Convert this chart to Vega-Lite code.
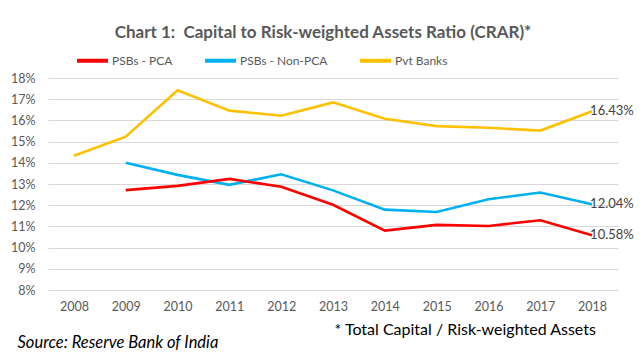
{
  "$schema": "https://vega.github.io/schema/vega-lite/v6.json",
  "width": 570,
  "height": 212,
  "autosize": {"type": "none"},
  "padding": {"left": 48, "top": 78, "right": 23, "bottom": 69},
  "background": "white",
  "title": {
    "text": "Chart 1:\u00a0 Capital to Risk-weighted Assets Ratio (CRAR)*",
    "font": "Lato",
    "fontSize": 17,
    "fontWeight": "bold",
    "color": "#595959",
    "anchor": "middle",
    "frame": "group",
    "dx": -10,
    "offset": 1
  },
  "config": {
    "font": "Lato",
    "view": {"stroke": null},
    "axis": {"labelFont": "Lato", "labelColor": "#595959", "labelFontSize": 12.5, "domain": false, "ticks": false}
  },
  "data": {
    "values": [
      {"year": "2008", "series": "Pvt Banks", "value": 0.1433},
      {"year": "2009", "series": "Pvt Banks", "value": 0.1523},
      {"year": "2010", "series": "Pvt Banks", "value": 0.1742},
      {"year": "2011", "series": "Pvt Banks", "value": 0.1646},
      {"year": "2012", "series": "Pvt Banks", "value": 0.1622},
      {"year": "2013", "series": "Pvt Banks", "value": 0.1685},
      {"year": "2014", "series": "Pvt Banks", "value": 0.1608},
      {"year": "2015", "series": "Pvt Banks", "value": 0.1573},
      {"year": "2016", "series": "Pvt Banks", "value": 0.1565},
      {"year": "2017", "series": "Pvt Banks", "value": 0.1552},
      {"year": "2018", "series": "Pvt Banks", "value": 0.1643},
      {"year": "2009", "series": "PSBs - Non-PCA", "value": 0.1400},
      {"year": "2010", "series": "PSBs - Non-PCA", "value": 0.1343},
      {"year": "2011", "series": "PSBs - Non-PCA", "value": 0.1296},
      {"year": "2012", "series": "PSBs - Non-PCA", "value": 0.1346},
      {"year": "2013", "series": "PSBs - Non-PCA", "value": 0.1270},
      {"year": "2014", "series": "PSBs - Non-PCA", "value": 0.1179},
      {"year": "2015", "series": "PSBs - Non-PCA", "value": 0.1168},
      {"year": "2016", "series": "PSBs - Non-PCA", "value": 0.1228},
      {"year": "2017", "series": "PSBs - Non-PCA", "value": 0.1260},
      {"year": "2018", "series": "PSBs - Non-PCA", "value": 0.1204},
      {"year": "2009", "series": "PSBs - PCA", "value": 0.1271},
      {"year": "2010", "series": "PSBs - PCA", "value": 0.1291},
      {"year": "2011", "series": "PSBs - PCA", "value": 0.1324},
      {"year": "2012", "series": "PSBs - PCA", "value": 0.1287},
      {"year": "2013", "series": "PSBs - PCA", "value": 0.1202},
      {"year": "2014", "series": "PSBs - PCA", "value": 0.1080},
      {"year": "2015", "series": "PSBs - PCA", "value": 0.1107},
      {"year": "2016", "series": "PSBs - PCA", "value": 0.1102},
      {"year": "2017", "series": "PSBs - PCA", "value": 0.1129},
      {"year": "2018", "series": "PSBs - PCA", "value": 0.1058}
    ]
  },
  "encoding": {
    "x": {
      "field": "year",
      "type": "ordinal",
      "scale": {"type": "point", "padding": 0.5},
      "axis": {
        "labelAngle": 0,
        "labelPadding": 10,
        "grid": false,
        "title": "Source: Reserve Bank of India",
        "titleFont": "Lato",
        "titleFontSize": 16.5,
        "titleFontStyle": "italic",
        "titleFontWeight": "normal",
        "titleColor": "#000000",
        "titleAnchor": "start",
        "titleAlign": "left",
        "titleBaseline": "middle",
        "titleX": -31,
        "titleY": 52
      }
    },
    "y": {
      "field": "value",
      "type": "quantitative",
      "scale": {"domain": [0.08, 0.18], "nice": false, "zero": false},
      "axis": {
        "format": ".0%",
        "values": [0.08, 0.09, 0.10, 0.11, 0.12, 0.13, 0.14, 0.15, 0.16, 0.17, 0.18],
        "labelPadding": 13,
        "gridColor": "#d9d9d9",
        "gridWidth": 1,
        "title": "* Total Capital / Risk-weighted Assets",
        "titleFont": "Lato",
        "titleFontSize": 16,
        "titleFontWeight": "normal",
        "titleColor": "#000000",
        "titleAngle": 0,
        "titleAlign": "left",
        "titleBaseline": "middle",
        "titleX": 286,
        "titleY": 251.5
      }
    },
    "color": {
      "field": "series",
      "type": "nominal",
      "scale": {
        "domain": ["PSBs - PCA", "PSBs - Non-PCA", "Pvt Banks"],
        "range": ["#FF0000", "#00B0F0", "#FFC000"]
      },
      "legend": {
        "title": null,
        "orient": "none",
        "direction": "horizontal",
        "legendX": 27,
        "legendY": -35,
        "symbolType": "stroke",
        "symbolSize": 961,
        "symbolStrokeWidth": 4,
        "labelFont": "Lato",
        "labelFontSize": 12,
        "labelColor": "#595959",
        "labelOffset": 2,
        "columnPadding": 24
      }
    }
  },
  "layer": [
    {
      "mark": {"type": "line", "strokeWidth": 2.6}
    },
    {
      "transform": [{"filter": "datum.year == '2018'"}],
      "mark": {"type": "text", "align": "left", "baseline": "middle", "dx": -2, "fontSize": 13, "font": "Lato", "color": "#404040"},
      "encoding": {
        "text": {"field": "value", "type": "quantitative", "format": ".2%"},
        "color": {"value": "#404040"}
      }
    }
  ]
}
